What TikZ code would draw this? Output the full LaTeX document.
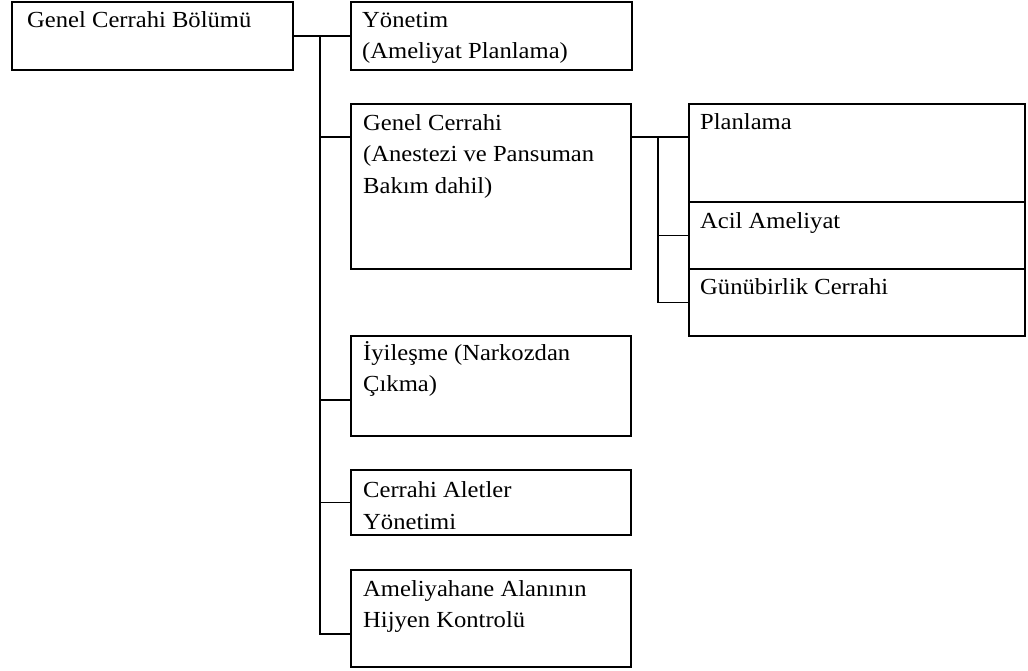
\documentclass[tikz,border=0pt]{standalone}
\usepackage{fontspec}
\setmainfont{Liberation Serif}[FakeStretch=1.07]
\begin{document}
\begin{tikzpicture}[x=1pt,y=-1pt,
  box/.style={draw=black, line width=1.5pt, anchor=north west, inner sep=0pt},
  % labels are placed by the baseline of their last line
  lbl/.style={anchor=base west, inner sep=0pt, align=left,
    font=\fontsize{23}{31.5}\selectfont},
  link/.style={draw=black, line width=1.5pt}]
\useasboundingbox (0,0) rectangle (1028,670);

% boxes
\node[box, minimum width=281pt, minimum height=68pt]  (root) at (11,1)   {};
\node[box, minimum width=281pt, minimum height=68pt]  (yon)  at (350,1)  {};
\node[box, minimum width=280pt, minimum height=165pt] (gc)   at (350,103) {};
\node[box, minimum width=336pt, minimum height=98pt]  (plan) at (688,103) {};
\node[box, minimum width=336pt, minimum height=67pt]  (acil) at (688,201) {};
\node[box, minimum width=336pt, minimum height=67pt]  (gun)  at (688,268) {};
\node[box, minimum width=280pt, minimum height=100pt] (iyi)  at (350,335) {};
\node[box, minimum width=280pt, minimum height=65pt]  (alet) at (350,469) {};
\node[box, minimum width=280pt, minimum height=97pt]  (hij)  at (350,569) {};

% labels
\node[lbl] (troot) at (27,27)    {Genel Cerrahi Bölümü};
\node[lbl] (tyon)  at (362,58.5) {Yönetim\\(Ameliyat Planlama)};
\node[lbl] (tgc)   at (363,193)  {Genel Cerrahi\\(Anestezi ve Pansuman\\Bakım dahil)};
\node[lbl] (tplan) at (700,129)  {Planlama};
\node[lbl] (tacil) at (700,228)  {Acil Ameliyat};
\node[lbl] (tgun)  at (700,294)  {Günübirlik Cerrahi};
\node[lbl] (tiyi)  at (363,391.5) {İyileşme (Narkozdan\\Çıkma)};
\node[lbl] (talet) at (363,529)  {Cerrahi Aletler\\Yönetimi};
\node[lbl] (thij)  at (363,627.5) {Ameliyahane Alanının\\Hijyen Kontrolü};

% attachment points on the box edges
\coordinate (gcin)   at ([shift={(0,34)}]gc.north west);
\coordinate (gcout)  at ([shift={(0,34)}]gc.north east);
\coordinate (planin) at ([shift={(0,34)}]plan.north west);
\coordinate (iyiin)  at ([shift={(0,65)}]iyi.north west);
\coordinate (hijin)  at ([shift={(0,65)}]hij.north west);

% main trunk
\coordinate (trunk) at (320,35);
\path[link] (root.east) -- (yon.west);
\path[link] (trunk) |- (hijin);
\path[link] (trunk |- gcin) -- (gcin);
\path[link] (trunk |- iyiin) -- (iyiin);
\path[link] (trunk |- alet.west) -- (alet.west);

% sub-branch of Genel Cerrahi
\coordinate (sub) at (658,137);
\path[link] (gcout) -- (planin);
\path[link] (sub) |- (gun.west);
\path[link] (sub |- acil.west) -- (acil.west);
\end{tikzpicture}
\end{document}
